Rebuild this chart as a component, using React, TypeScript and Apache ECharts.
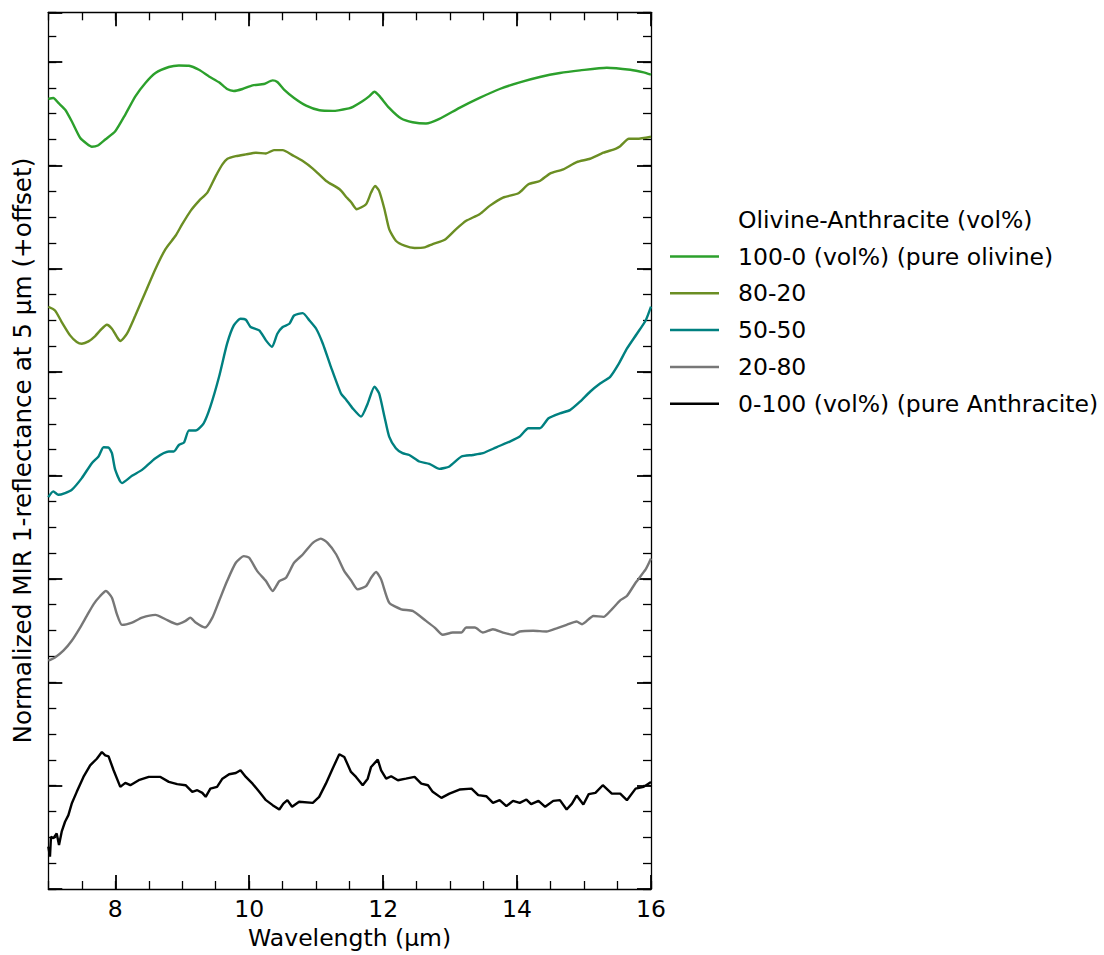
import React, { useEffect, useRef } from "react";
import * as echarts from "echarts";

// Tick positions (µm) and labels
const xMajorTicks = [8, 10, 12, 14, 16];
const seriesNames = [
  "100-0 (vol%) (pure olivine)",
  "80-20",
  "50-50",
  "20-80",
  "0-100 (vol%) (pure Anthracite)",
];
const seriesColors = ["#2ca02c", "#6b8e23", "#008080", "#777777", "#000000"];

// [wavelength µm, normalized 1-reflectance + offset]
const olivine100: [number, number][] = [
  [7.0, 7.612], [7.075, 7.622], [7.15, 7.574], [7.25, 7.51], [7.35, 7.397], [7.475, 7.238],
  [7.575, 7.18], [7.65, 7.152], [7.74, 7.164], [7.85, 7.221], [8.0, 7.301], [8.15, 7.462],
  [8.3, 7.637], [8.45, 7.766], [8.6, 7.862], [8.8, 7.92], [8.95, 7.935], [9.1, 7.932],
  [9.25, 7.893], [9.4, 7.829], [9.55, 7.772], [9.67, 7.708], [9.77, 7.689], [9.9, 7.708],
  [10.05, 7.743], [10.22, 7.756], [10.35, 7.791], [10.42, 7.775], [10.52, 7.702], [10.67, 7.622],
  [10.85, 7.548], [11.05, 7.503], [11.25, 7.497], [11.49, 7.522], [11.55, 7.536], [11.69, 7.589],
  [11.79, 7.637], [11.87, 7.682], [11.94, 7.644], [12.09, 7.526], [12.27, 7.423], [12.44, 7.388],
  [12.64, 7.375], [12.84, 7.42], [13.14, 7.526], [13.44, 7.622], [13.74, 7.708], [14.04, 7.772],
  [14.34, 7.824], [14.64, 7.862], [14.94, 7.887], [15.34, 7.913], [15.69, 7.893], [15.89, 7.868],
  [16.0, 7.846],
];

const olivine80: [number, number][] = [
  [7.0, 5.61], [7.1, 5.574], [7.2, 5.463], [7.325, 5.334], [7.425, 5.271], [7.5, 5.254],
  [7.6, 5.276], [7.7, 5.328], [7.775, 5.382], [7.875, 5.437], [7.95, 5.399], [8.025, 5.319],
  [8.075, 5.28], [8.175, 5.35], [8.3, 5.526], [8.45, 5.75], [8.6, 5.974], [8.75, 6.166],
  [8.9, 6.294], [9.0, 6.406], [9.125, 6.534], [9.25, 6.63], [9.375, 6.71], [9.5, 6.869],
  [9.6, 6.982], [9.675, 7.036], [9.8, 7.061], [9.95, 7.078], [10.1, 7.094], [10.25, 7.087],
  [10.37, 7.119], [10.5, 7.119], [10.65, 7.068], [10.8, 7.014], [10.95, 6.941], [11.15, 6.822],
  [11.35, 6.742], [11.46, 6.66], [11.52, 6.62], [11.605, 6.55], [11.745, 6.598], [11.82, 6.71],
  [11.88, 6.773], [11.94, 6.726], [12.02, 6.55], [12.09, 6.358], [12.19, 6.246], [12.32, 6.198],
  [12.47, 6.176], [12.62, 6.182], [12.74, 6.214], [12.92, 6.255], [13.09, 6.358], [13.24, 6.438],
  [13.44, 6.502], [13.59, 6.582], [13.79, 6.662], [14.02, 6.703], [14.17, 6.79], [14.34, 6.822],
  [14.49, 6.893], [14.69, 6.934], [14.89, 7.004], [15.09, 7.036], [15.29, 7.094], [15.47, 7.132],
  [15.54, 7.157], [15.67, 7.228], [15.79, 7.228], [16.0, 7.248],
];

const olivine50: [number, number][] = [
  [7.0, 3.776], [7.075, 3.831], [7.15, 3.798], [7.25, 3.815], [7.35, 3.846], [7.5, 3.959],
  [7.65, 4.103], [7.75, 4.167], [7.825, 4.256], [7.9, 4.253], [7.95, 4.199], [8.0, 4.038],
  [8.1, 3.911], [8.25, 3.981], [8.4, 4.038], [8.6, 4.151], [8.8, 4.215], [8.875, 4.215],
  [8.95, 4.278], [9.025, 4.301], [9.1, 4.417], [9.2, 4.417], [9.32, 4.487], [9.42, 4.647],
  [9.55, 4.935], [9.67, 5.254], [9.77, 5.43], [9.87, 5.494], [9.95, 5.485], [10.02, 5.415],
  [10.15, 5.382], [10.25, 5.286], [10.34, 5.223], [10.42, 5.35], [10.5, 5.415], [10.6, 5.446],
  [10.67, 5.526], [10.8, 5.549], [10.9, 5.478], [11.0, 5.398], [11.1, 5.254], [11.22, 5.031],
  [11.37, 4.774], [11.445, 4.717], [11.545, 4.631], [11.67, 4.551], [11.77, 4.678], [11.87, 4.839],
  [11.94, 4.775], [12.02, 4.551], [12.09, 4.359], [12.19, 4.247], [12.29, 4.199], [12.39, 4.182],
  [12.54, 4.119], [12.69, 4.096], [12.84, 4.048], [12.99, 4.071], [13.17, 4.167], [13.34, 4.182],
  [13.49, 4.199], [13.69, 4.256], [13.89, 4.311], [14.04, 4.359], [14.17, 4.439], [14.34, 4.439],
  [14.47, 4.535], [14.64, 4.583], [14.79, 4.614], [14.94, 4.695], [15.09, 4.791], [15.24, 4.87],
  [15.39, 4.935], [15.52, 5.062], [15.64, 5.206], [15.79, 5.35], [15.92, 5.478], [16.0, 5.612],
];

const olivine20: [number, number][] = [
  [7.0, 2.2], [7.1, 2.231], [7.225, 2.296], [7.35, 2.392], [7.475, 2.519], [7.575, 2.632],
  [7.675, 2.743], [7.775, 2.823], [7.86, 2.871], [7.95, 2.807], [8.025, 2.647], [8.1, 2.545],
  [8.25, 2.567], [8.4, 2.615], [8.6, 2.641], [8.75, 2.599], [8.925, 2.551], [9.05, 2.583],
  [9.12, 2.615], [9.2, 2.567], [9.34, 2.519], [9.45, 2.615], [9.55, 2.775], [9.67, 2.967],
  [9.8, 3.143], [9.92, 3.207], [10.0, 3.191], [10.12, 3.063], [10.25, 2.967], [10.35, 2.871],
  [10.45, 2.967], [10.55, 2.999], [10.67, 3.143], [10.8, 3.223], [10.95, 3.335], [11.07, 3.376],
  [11.17, 3.335], [11.3, 3.223], [11.42, 3.063], [11.52, 2.975], [11.62, 2.887], [11.745, 2.919],
  [11.82, 2.999], [11.895, 3.054], [11.97, 2.983], [12.09, 2.759], [12.27, 2.695], [12.44, 2.679],
  [12.64, 2.583], [12.77, 2.519], [12.89, 2.449], [13.04, 2.471], [13.17, 2.471], [13.24, 2.519],
  [13.37, 2.519], [13.49, 2.471], [13.64, 2.503], [13.79, 2.471], [13.94, 2.449], [14.04, 2.481],
  [14.24, 2.488], [14.44, 2.481], [14.59, 2.512], [14.74, 2.545], [14.89, 2.577], [14.97, 2.551],
  [15.14, 2.631], [15.29, 2.622], [15.415, 2.695], [15.54, 2.781], [15.64, 2.823], [15.77, 2.951],
  [15.92, 3.079], [16.0, 3.184],
];

const olivine0: [number, number][] = [
  [7.0, 0.408], [7.025, 0.312], [7.04, 0.504], [7.075, 0.488], [7.125, 0.536], [7.16, 0.424],
  [7.2, 0.552], [7.25, 0.648], [7.3, 0.712], [7.35, 0.823], [7.425, 0.936], [7.525, 1.08],
  [7.625, 1.192], [7.725, 1.255], [7.8, 1.32], [7.85, 1.288], [7.9, 1.278], [7.975, 1.144],
  [8.075, 0.984], [8.15, 1.022], [8.225, 1.0], [8.35, 1.048], [8.5, 1.08], [8.675, 1.08],
  [8.8, 1.032], [8.925, 1.01], [9.05, 1.0], [9.15, 0.936], [9.225, 0.952], [9.3, 0.926],
  [9.35, 0.888], [9.42, 0.967], [9.52, 0.984], [9.6, 1.063], [9.7, 1.106], [9.8, 1.118],
  [9.87, 1.144], [9.95, 1.08], [10.05, 1.015], [10.15, 0.936], [10.25, 0.856], [10.35, 0.808],
  [10.45, 0.766], [10.51, 0.823], [10.57, 0.856], [10.64, 0.792], [10.745, 0.84], [10.95, 0.83],
  [11.045, 0.888], [11.145, 1.015], [11.245, 1.159], [11.345, 1.298], [11.42, 1.272], [11.52, 1.128],
  [11.595, 1.08], [11.695, 1.0], [11.77, 1.063], [11.82, 1.176], [11.92, 1.246], [11.97, 1.144],
  [12.045, 1.063], [12.12, 1.086], [12.22, 1.048], [12.34, 1.063], [12.47, 1.08], [12.57, 1.015],
  [12.67, 1.0], [12.74, 0.936], [12.87, 0.878], [12.99, 0.919], [13.14, 0.958], [13.32, 0.967],
  [13.42, 0.904], [13.54, 0.894], [13.64, 0.83], [13.74, 0.856], [13.84, 0.798], [13.94, 0.849],
  [14.04, 0.83], [14.14, 0.862], [14.21, 0.818], [14.32, 0.849], [14.42, 0.792], [14.54, 0.849],
  [14.64, 0.856], [14.74, 0.766], [14.82, 0.823], [14.89, 0.9], [14.99, 0.814], [15.07, 0.914],
  [15.17, 0.926], [15.28, 1.0], [15.415, 0.919], [15.54, 0.919], [15.64, 0.856], [15.77, 0.967],
  [15.89, 0.984], [16.0, 1.032],
];

const seriesData = [olivine100, olivine80, olivine50, olivine20, olivine0];

const FONT = "DejaVu Sans";
const FS = 23.5;
const Y_MAX = 8.447;
const Y_MAJOR = 0.996;

function xAxisDef(position: "top" | "bottom", major: boolean, withLabels: boolean) {
  return {
    type: "value",
    min: 7,
    max: 16,
    position,
    ...(major ? {} : { interval: 0.5 }),
    axisLine: { show: major, onZero: false, lineStyle: { color: "#000", width: 1.3 } },
    axisTick: {
      show: true,
      inside: true,
      length: major ? 14 : 8,
      ...(major ? { customValues: xMajorTicks } : {}),
      lineStyle: { color: "#000", width: major ? 1.8 : 1.3 },
    },
    axisLabel: withLabels
      ? { show: true, customValues: xMajorTicks, fontSize: FS, color: "#000", fontFamily: FONT, margin: 8 }
      : { show: false },
    splitLine: { show: false },
    ...(withLabels
      ? {
          name: "Wavelength (µm)",
          nameLocation: "middle",
          nameGap: 37,
          nameTextStyle: { fontSize: FS, color: "#000", fontFamily: FONT },
        }
      : {}),
  };
}

function yAxisDef(position: "left" | "right", major: boolean, withName: boolean) {
  return {
    type: "value",
    min: 0,
    max: Y_MAX,
    interval: major ? Y_MAJOR : Y_MAJOR / 4,
    position,
    axisLine: { show: major, onZero: false, lineStyle: { color: "#000", width: 1.3 } },
    axisTick: {
      show: true,
      inside: true,
      length: major ? 14 : 8,
      lineStyle: { color: "#000", width: major ? 1.8 : 1.3 },
    },
    axisLabel: { show: false },
    splitLine: { show: false },
    ...(withName
      ? {
          name: "Normalized MIR 1-reflectance at 5 µm (+offset)",
          nameLocation: "middle",
          nameGap: 13,
          nameTextStyle: { fontSize: 24.7, color: "#000", fontFamily: FONT },
        }
      : {}),
  };
}

export default function App() {
  const ref = useRef<HTMLDivElement>(null);
  useEffect(() => {
    if (!ref.current) return;
    const chart = echarts.init(ref.current, null, { renderer: "svg" });
    const option: any = {
      animation: false,
      backgroundColor: "#fff",
      textStyle: { fontFamily: FONT },
      title: {
        text: "Olivine-Anthracite (vol%)",
        left: 738,
        top: 208,
        padding: 0,
        textStyle: { fontSize: FS, fontWeight: "normal", color: "#000", fontFamily: FONT },
      },
      legend: {
        orient: "vertical",
        left: 670,
        top: 244.5,
        padding: 0,
        icon: "rect",
        itemWidth: 49,
        itemHeight: 2.5,
        itemGap: 12.8,
        data: seriesNames,
        textStyle: {
          fontSize: FS,
          lineHeight: 23.5,
          color: "#000",
          fontFamily: FONT,
          padding: [0, 0, 0, 14],
        },
      },
      grid: { left: 48.3, right: 453, top: 12.3, bottom: 62.5, containLabel: false },
      xAxis: [
        xAxisDef("bottom", true, true),
        xAxisDef("bottom", false, false),
        xAxisDef("top", true, false),
        xAxisDef("top", false, false),
      ],
      yAxis: [
        yAxisDef("left", true, true),
        yAxisDef("left", false, false),
        yAxisDef("right", true, false),
        yAxisDef("right", false, false),
      ],
      series: seriesNames.map((name, i) => ({
        name,
        type: "line",
        xAxisIndex: 0,
        yAxisIndex: 0,
        data: seriesData[i],
        showSymbol: false,
        symbol: "none",
        smooth: i === 4 ? false : 0.2,
        lineStyle: { color: seriesColors[i], width: 2.4 },
        itemStyle: { color: seriesColors[i] },
        emphasis: { disabled: true },
      })),
    };
    chart.setOption(option);
    return () => chart.dispose();
  }, []);
  return (
    <div
      ref={ref}
      style={{ position: "fixed", left: 0, top: 0, width: 1104, height: 955 }}
    />
  );
}
